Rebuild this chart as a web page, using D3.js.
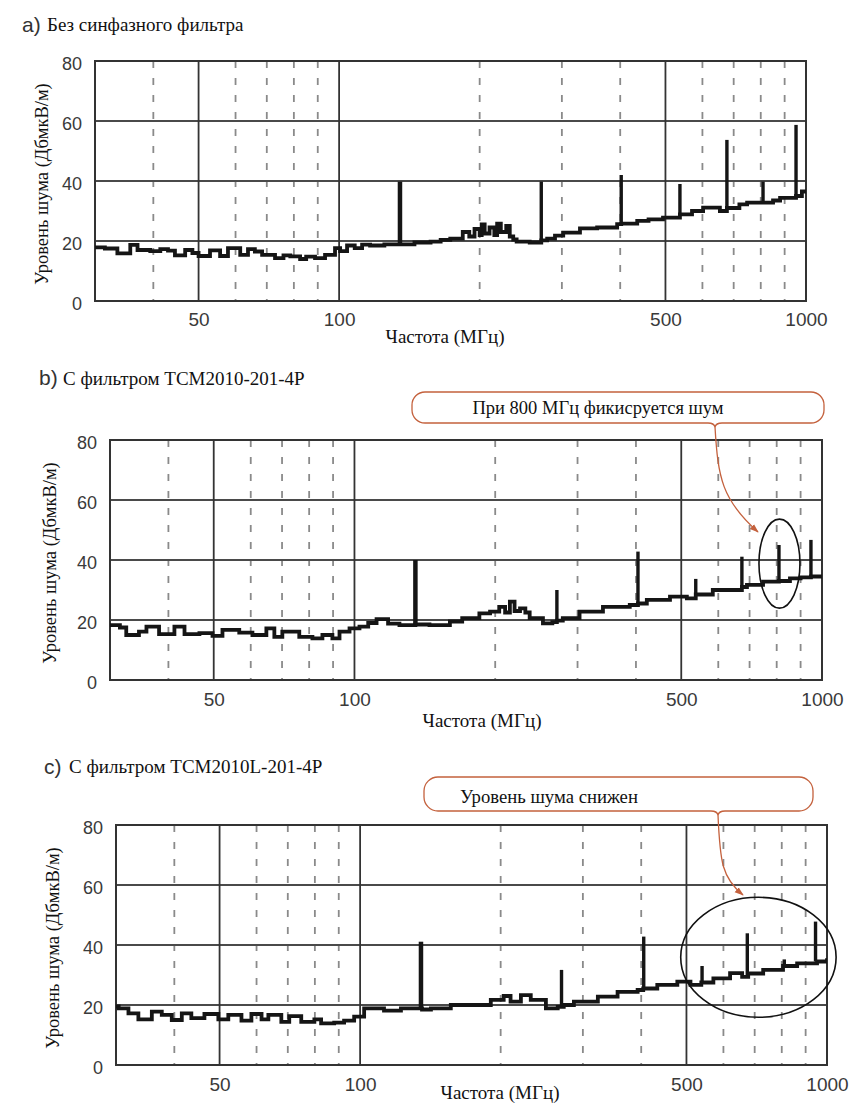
<!DOCTYPE html>
<html><head><meta charset="utf-8">
<script src="https://cdn.jsdelivr.net/npm/d3@7"></script>
<style>body{margin:0;background:#fff} svg{display:block}</style>
</head><body>
<svg id="chart" width="856" height="1109"></svg>
<script>
// ---------- DATA ----------
// Panel a: без фильтра
const freqA  = [30,31.5,33.5,35.7,37,39.4,41.4,43,44.5,46.8,48.5,50,52.9,55.6,57.8,61.4,63.8,66,68.4,72.9,76,78.6,82.5,85,88.8,93.3,98,100.5,104,108,112,116.5,125,135,145,157,165,173,184,190,195,200,202,205,210,215,218,222,228,232,236,240,256,271,279,290,302,328,357,394,402,435,460,494,537,570,602,654,677,720,748,809,850,880,952,980,1000];
const levelA = [17.9,17.5,15.9,18.7,17,16.6,17.3,16.8,15.2,17,16,15,16.9,15,17.6,15.4,17.3,16.5,15.4,14.3,15.2,14.9,14,14.8,14.3,15.4,17.6,16.6,18.5,17.6,18.8,18.5,18.9,18.9,19.5,19.8,20.4,20.8,23,21.5,24,22,25.5,22.5,24.5,22,25.8,23,25,21.5,20.5,19.8,19.5,20.2,20.8,21.8,22.8,24.2,24.5,25.6,25.8,26.7,27.2,27.8,28.9,30,31.1,30,31,32.2,32.8,32.8,33.5,34.4,35,36.5,36];
const spikeFreqA = [135,271,402,537,677,809,952];
const spikeTopA  = [39.8,39.8,42,39,53.7,39.8,58.7];
const spikeBaseA = [18.9,20.2,25.8,28.9,31,32.8,35];

// Panel b: с фильтром TCM2010-201-4P
const freqB  = [30,31.5,32.5,34.6,35.9,38.2,41.2,43.3,46.6,49.7,52.2,56.7,60.5,64.8,67.4,70.1,76.2,81.3,85.4,89.7,92.9,97.6,102.5,107,111.5,118,124.8,135,144.7,160,170,185,195,204,210,215,220,226,232,237,253,265,271,279,303,340,388,404,422,473,514,537,584,635,674,691,748,809,854,900,947,1000];
const levelB = [18.3,17.5,15,16.1,17.8,15.3,17.8,15.3,15.6,14.7,16.7,15.8,15,17.2,14.4,16.1,14.4,13.9,15,13.9,16.1,17.2,17.8,19,20.3,18.8,18.3,18.5,18.3,19.5,20.6,22.2,22.8,24.4,22.5,26.1,23,23.9,22.5,20.6,18.9,19.3,19.8,20.6,22.8,24.4,25,25.5,26.7,27.8,27.2,28.5,30,30,31,31.7,32.8,33,33.9,34.2,34.5,34.7];
const spikeFreqB = [135,271,404,537,674,809,947];
const spikeTopB  = [40,30,42.8,33.7,41.1,45,46.7];
const spikeBaseB = [18.5,19.8,25.5,28.5,31,33,34.5];

// Panel c: с фильтром TCM2010L-201-4P
const freqC  = [30,30.4,31.9,33.5,35.8,37.6,39.5,41.5,43.5,46.4,49.7,52.2,55.7,58.5,61.5,63.6,67.8,70.5,74.8,79.8,82.5,88,92.4,97.1,102,112.5,122.3,135.7,141.8,156.4,172.7,190.5,203,210,221,232,250,265,273,287,323,356,393,404,433,478,510,538,571,620,658,678,730,805,863,952,1000];
const levelC = [19.5,18.9,17.2,15.2,17.8,16.7,15,17.2,15.6,17,15.2,16.7,14.8,17,15.2,16.7,14.4,16.3,14.4,15.2,13.9,14.1,14.8,16.1,18.9,18.1,18.9,18.5,18.9,20,20,21.7,23,21.1,23.3,21.7,18.9,19.4,20,21.1,22.8,24.4,25,25.5,26.7,27.8,26.7,27.5,28.9,30.6,29.4,30.5,31.7,33,33.9,34.5,35.6];
const spikeFreqC = [135,270,405,540,675,810,945];
const spikeTopC  = [41.1,31.7,42.8,33,43.9,35.2,47.8];
const spikeBaseC = [18.5,20,25.5,27.5,30,33,34.5];

// Axes
const xTickValues = [50,100,500,1000];
const xTickLabels = ["50","100","500","1000"];
const yTickValues = [0,20,40,60,80];
const solidGridFreqs  = [50,100,500];
const dashedGridFreqs = [40,60,70,80,90,200,300,400,600,700,800,900];
const xDomain = [30,1000];
const yDomain = [0,80];

const panelLetters = ["a)","b)","c)"];
const panelTitles  = ["Без синфазного фильтра","С фильтром TCM2010-201-4P","С фильтром TCM2010L-201-4P"];
const yTitle = "Уровень шума (ДбмкВ/м)";
const xTitle = "Частота (МГц)";
const calloutTexts = ["При 800 МГц фикисруется шум","Уровень шума снижен"];

// ---------- LAYOUT ----------
const layouts = [
  {l:95, r:806, t:61, b:301, letterX:22, letterY:32, titleX:47, titleY:31, yTitleX:48, xTitleX:445, xTitleY:343, xPad:11.5},
  {l:110,r:822, t:440,b:680, letterX:39, letterY:385,titleX:63, titleY:385,yTitleX:56, xTitleX:482, xTitleY:727, xPad:13},
  {l:116,r:827, t:825,b:1065,letterX:44, letterY:774,titleX:69, titleY:773,yTitleX:59, xTitleX:500, xTitleY:1099,xPad:13}
];
const panelsData = [
  {freq:freqA, level:levelA, sf:spikeFreqA, st:spikeTopA, sb:spikeBaseA},
  {freq:freqB, level:levelB, sf:spikeFreqB, st:spikeTopB, sb:spikeBaseB},
  {freq:freqC, level:levelC, sf:spikeFreqC, st:spikeTopC, sb:spikeBaseC}
];

const svg = d3.select("#chart");
const SERIF = "'Liberation Serif','Times New Roman',serif";
const SANS  = "'Liberation Sans',Arial,sans-serif";
const scales = [];

panelsData.forEach((pd,i)=>{
  const L = layouts[i];
  const x = d3.scaleLog().domain(xDomain).range([L.l,L.r]);
  const y = d3.scaleLinear().domain(yDomain).range([L.b,L.t]);
  scales.push({x,y});
  const g = svg.append("g");

  g.selectAll(".dg").data(dashedGridFreqs).enter().append("line")
    .attr("x1",d=>x(d)).attr("x2",d=>x(d)).attr("y1",L.t).attr("y2",L.b)
    .attr("stroke","#8a8a8a").attr("stroke-width",1.8).attr("stroke-dasharray","7,10");
  g.selectAll(".hg").data(yTickValues.slice(1,-1)).enter().append("line")
    .attr("x1",L.l).attr("x2",L.r).attr("y1",d=>y(d)).attr("y2",d=>y(d))
    .attr("stroke","#4a4a4a").attr("stroke-width",2);
  g.selectAll(".sg").data(solidGridFreqs).enter().append("line")
    .attr("x1",d=>x(d)).attr("x2",d=>x(d)).attr("y1",L.t).attr("y2",L.b)
    .attr("stroke","#333").attr("stroke-width",1.8);
  g.append("rect").attr("x",L.l).attr("y",L.t).attr("width",L.r-L.l).attr("height",L.b-L.t)
    .attr("fill","none").attr("stroke","#333").attr("stroke-width",2);

  const cid = "clip"+i;
  svg.append("clipPath").attr("id",cid).append("rect")
    .attr("x",L.l).attr("y",L.t).attr("width",L.r-L.l).attr("height",L.b-L.t);
  const pg = g.append("g").attr("clip-path",`url(#${cid})`);

  const series = pd.freq.map((f,k)=>[f,pd.level[k]]);
  const line = d3.line().x(d=>x(d[0])).y(d=>y(d[1])).curve(d3.curveStepAfter);
  pg.append("path").datum(series).attr("d",line)
    .attr("fill","none").attr("stroke","#151515").attr("stroke-width",3.8)
    .attr("stroke-linejoin","miter");

  pg.selectAll(".sp").data(pd.sf.map((f,k)=>({f,top:pd.st[k],base:pd.sb[k]}))).enter().append("line")
    .attr("x1",d=>x(d.f)).attr("x2",d=>x(d.f))
    .attr("y1",d=>y(d.base)).attr("y2",d=>y(d.top))
    .attr("stroke","#151515").attr("stroke-width",(d,k)=>k===0?4.5:3.4);

  const ya = d3.axisLeft(y).tickValues(yTickValues).tickSize(0).tickPadding(13);
  const yg = svg.append("g").attr("transform",`translate(${L.l},0)`).call(ya);
  yg.select(".domain").remove();
  yg.selectAll("text").attr("font-family",SANS).attr("font-size",18).attr("fill","#3a3a3a").attr("dy","0.45em");

  const xa = d3.axisBottom(x).tickValues(xTickValues).tickFormat((d,k)=>xTickLabels[k]).tickSize(0).tickPadding(L.xPad);
  const xg = svg.append("g").attr("transform",`translate(0,${L.b})`).call(xa);
  xg.select(".domain").remove();
  xg.selectAll("text").attr("font-family",SANS).attr("font-size",19).attr("fill","#3a3a3a");

  svg.append("text").attr("x",L.letterX).attr("y",L.letterY).text(panelLetters[i])
    .attr("font-family",SANS).attr("font-size",21).attr("fill","#333");
  svg.append("text").attr("x",L.titleX).attr("y",L.titleY).text(panelTitles[i])
    .attr("font-family",SERIF).attr("font-size",19).attr("fill","#111");
  svg.append("text").attr("transform",`translate(${L.yTitleX},${(L.t+L.b)/2+3}) rotate(-90)`)
    .attr("text-anchor","middle").text(yTitle)
    .attr("font-family",SERIF).attr("font-size",18.5).attr("fill","#111");
  svg.append("text").attr("x",L.xTitleX).attr("y",L.xTitleY).attr("text-anchor","middle").text(xTitle)
    .attr("font-family",SERIF).attr("font-size",19).attr("fill","#111");
});

// ---------- ANNOTATIONS ----------
const ORANGE = "#c4613d";
const defs = svg.append("defs");
defs.append("marker").attr("id","arr").attr("viewBox","0 0 10 10").attr("refX",9).attr("refY",5)
  .attr("markerWidth",7).attr("markerHeight",7).attr("orient","auto")
  .append("path").attr("d","M0,1.5 L10,5 L0,8.5 Z").attr("fill",ORANGE);

function callout(x0,y0,x1,y1,r,nx){
  const p = `M${x0+r},${y0} H${x1-r} A${r},${r} 0 0 1 ${x1},${y0+r} V${y1-r} A${r},${r} 0 0 1 ${x1-r},${y1}
    H${nx+7} Q${nx+1},${y1} ${nx},${y1+4} Q${nx-1},${y1} ${nx-7},${y1}
    H${x0+r} A${r},${r} 0 0 1 ${x0},${y1-r} V${y0+r} A${r},${r} 0 0 1 ${x0+r},${y0} Z`;
  svg.append("path").attr("d",p).attr("fill","#fff").attr("stroke",ORANGE).attr("stroke-width",1.3);
}
callout(412,392,824,423,13,715);
svg.append("text").attr("x",598).attr("y",414).attr("text-anchor","middle").text(calloutTexts[0])
  .attr("font-family",SERIF).attr("font-size",18.5).attr("fill","#111");
svg.append("path").attr("d","M715,427 C718,478 722,500 758,532").attr("fill","none")
  .attr("stroke",ORANGE).attr("stroke-width",1.3).attr("marker-end","url(#arr)");
svg.append("ellipse").attr("cx",scales[1].x(811)).attr("cy",scales[1].y(38.8)).attr("rx",20.5).attr("ry",44.5)
  .attr("fill","none").attr("stroke","#111").attr("stroke-width",1.6);

callout(424,777,813,811,14,718);
svg.append("text").attr("x",460).attr("y",803).text(calloutTexts[1])
  .attr("font-family",SERIF).attr("font-size",18.7).attr("fill","#111");
svg.append("path").attr("d","M718,815 C720,862 722,878 743,895").attr("fill","none")
  .attr("stroke",ORANGE).attr("stroke-width",1.3).attr("marker-end","url(#arr)");
svg.append("ellipse").attr("cx",scales[2].x(713)).attr("cy",scales[2].y(35.9)).attr("rx",77.7).attr("ry",60)
  .attr("fill","none").attr("stroke","#111").attr("stroke-width",1.6);
</script>
</body></html>
